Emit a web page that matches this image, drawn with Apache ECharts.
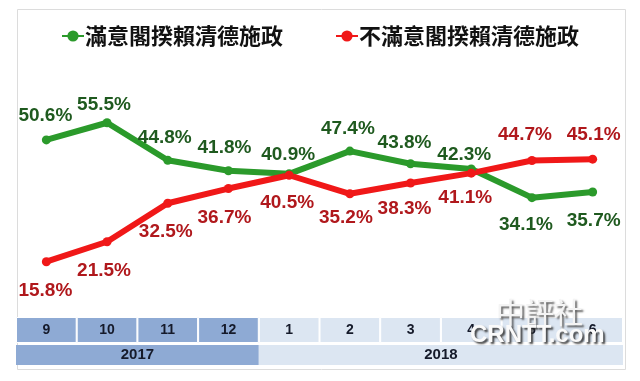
<!DOCTYPE html>
<html><head><meta charset="utf-8">
<script src="https://cdn.jsdelivr.net/npm/echarts@6/dist/echarts.min.js"></script>
<style>html,body{margin:0;padding:0;background:#fff}#c{width:640px;height:381px}</style>
</head><body><div id="c"></div>
<script>
const months = ['9','10','11','12','1','2','3','4','5','6'];
const monthYear = ['2017','2017','2017','2017','2018','2018','2018','2018','2018','2018'];
const years = ['2017','2018'];
const seriesNames = ['滿意閣揆賴清德施政','不滿意閣揆賴清德施政'];
const satisfied = [50.6,55.5,44.8,41.8,40.9,47.4,43.8,42.3,34.1,35.7];
const dissatisfied = [15.8,21.5,32.5,36.7,40.5,35.2,38.3,41.1,44.7,45.1];

// label placement (style only)
const satPos = ['top','top','top','top','top','top','top','top','bottom','bottom'];
const satDist = [10,4,8,9,5,8,7,0,13,15];
const satOff = [-1,-3,-3,-4,-1,-2,-6,-7,-6,1];
const disPos = ['bottom','bottom','bottom','bottom','bottom','bottom','bottom','bottom','top','top'];
const disDist = [15,15,15,15,14,10,12,11,12,10];
const disOff = [-1,-3,-2,-4,-2,-4,-6,-6,-7,1];

const GREEN='#2b9a2b', RED='#f01818', GLAB='#1f5a1f', RLAB='#b0181c';
const C2017='#8eaad4', C2018='#dce6f2';
const numFont = '"Liberation Sans",Arial,sans-serif';

function mk(vals,pos,dist,off){
  return vals.map((v,i)=>({value:v,label:{position:pos[i],distance:dist[i],offset:[off[i],0]}}));
}
const yearSpans = years.map(y=>monthYear.filter(m=>m===y).length);
const monthSeries = months.map((m,i)=>({
  type:'bar', xAxisIndex:1, yAxisIndex:1, stack:'m', barWidth:'100%',
  data:[1], silent:true,
  itemStyle:{color: monthYear[i]==='2017'?C2017:C2018, borderColor:'#fff', borderWidth:1},
  label:{show:true, position:'inside', formatter:m, color:'#151a2a', fontSize:14, fontWeight:'bold', fontFamily:numFont}
}));
const yearSeries = years.map((y,i)=>({
  type:'bar', xAxisIndex:2, yAxisIndex:2, stack:'y', barWidth:'100%',
  data:[yearSpans[i]], silent:true,
  itemStyle:{color: y==='2017'?C2017:C2018},
  label:{show:true, position:'inside', formatter:y, color:'#151a2a', fontSize:15, fontWeight:'bold', fontFamily:numFont}
}));

const chart = echarts.init(document.getElementById('c'));
chart.setOption({
  animation:false,
  backgroundColor:'#fff',
  legend:{
    data:seriesNames, top:20, left:'center', itemGap:52, itemWidth:22, itemHeight:14,
    textStyle:{fontSize:22, fontWeight:'bold', color:'#111', fontFamily:'"Noto Sans CJK TC","Noto Sans CJK SC",sans-serif', padding:[0,0,0,-4]}
  },
  grid:[
    {left:16, width:607, top:107, height:210},
    {left:16, width:607, top:317, height:26},
    {left:16, width:607, top:345, height:20}
  ],
  xAxis:[
    {type:'category', data:months, gridIndex:0, boundaryGap:true, show:false},
    {type:'value', gridIndex:1, min:0, max:months.length, show:false},
    {type:'value', gridIndex:2, min:0, max:months.length, show:false}
  ],
  yAxis:[
    {type:'value', gridIndex:0, min:0, max:60, show:false},
    {type:'category', gridIndex:1, data:['m'], show:false},
    {type:'category', gridIndex:2, data:['y'], show:false}
  ],
  graphic:[
    {type:'rect', left:15, top:7, shape:{width:608, height:360}, style:{fill:'none', stroke:'#dcdcdc', lineWidth:1}, z:-1},
    {type:'text', left:496, top:298, z:100, style:{text:'中評社', fontSize:29, fontFamily:'"Noto Sans CJK TC",serif', fill:'#f4f4f4', textShadowColor:'rgba(60,60,60,0.8)', textShadowBlur:2, textShadowOffsetX:2, textShadowOffsetY:2}},
    {type:'text', left:470, top:323, z:100, style:{text:'CRNTT.com', fontSize:24, fontWeight:'bold', fontFamily:numFont, fill:'#fafafa', textShadowColor:'rgba(40,40,40,0.85)', textShadowBlur:2, textShadowOffsetX:2, textShadowOffsetY:2}}
  ],
  series:[
    {name:seriesNames[0], type:'line', xAxisIndex:0, yAxisIndex:0, data:mk(satisfied,satPos,satDist,satOff),
      symbol:'circle', symbolSize:9, lineStyle:{width:6, color:GREEN}, itemStyle:{color:GREEN},
      label:{show:true, formatter:'{c}%', color:GLAB, fontSize:19, fontWeight:'bold', fontFamily:numFont}},
    {name:seriesNames[1], type:'line', xAxisIndex:0, yAxisIndex:0, data:mk(dissatisfied,disPos,disDist,disOff),
      symbol:'circle', symbolSize:9, lineStyle:{width:6, color:RED}, itemStyle:{color:RED},
      label:{show:true, formatter:'{c}%', color:RLAB, fontSize:19, fontWeight:'bold', fontFamily:numFont}},
    ...monthSeries,
    ...yearSeries
  ]
});
</script></body></html>
